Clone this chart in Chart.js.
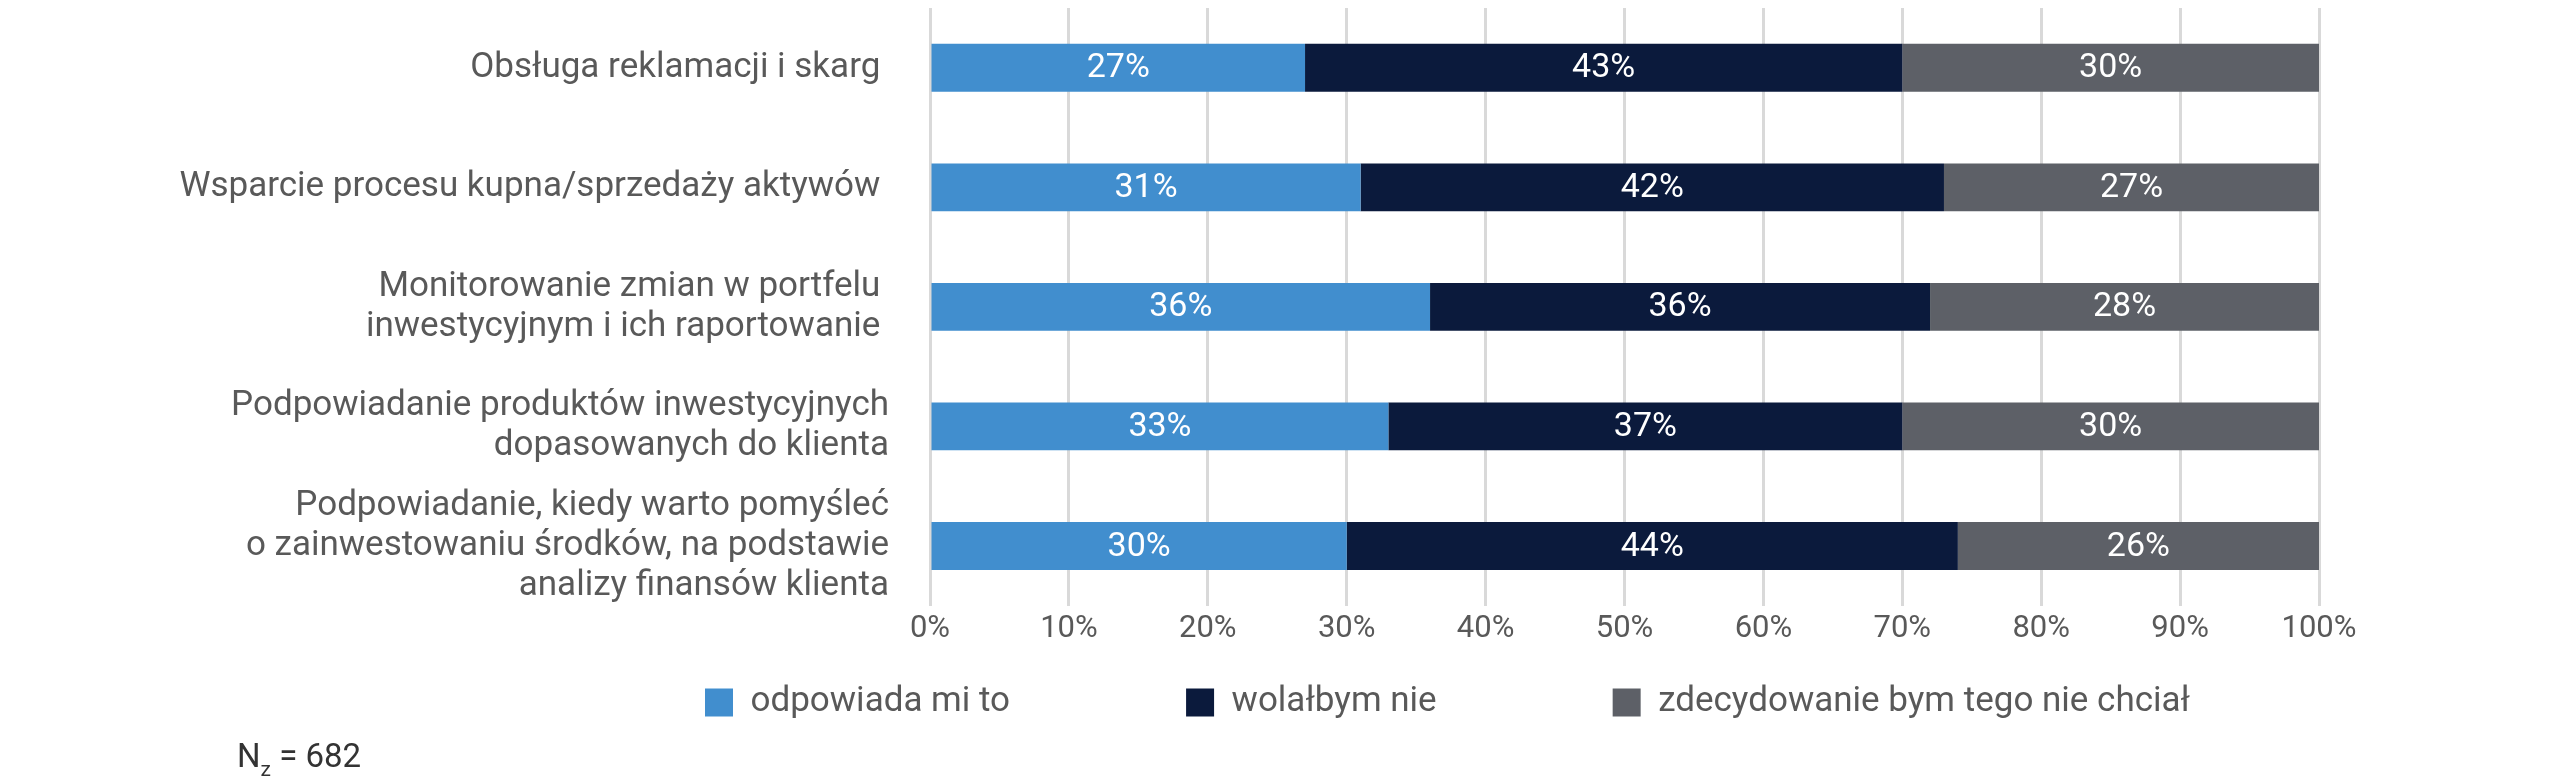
<!DOCTYPE html>
<html>
<head>
<meta charset="utf-8">
<script src="https://cdn.jsdelivr.net/npm/chart.js@4"></script>
<style>
	html, body { margin: 0; padding: 0; background: #fff; }
	#wrap { position: relative; width: 2560px; height: 783px; }
</style>
</head>
<body>
<div id="wrap"><canvas id="myChart"></canvas></div>
<script>
	const categories = [
		'Obsługa reklamacji i skarg ',
		'Wsparcie procesu kupna/sprzedaży aktywów ',
		['Monitorowanie zmian w portfelu ', 'inwestycyjnym i ich raportowanie '],
		['Podpowiadanie produktów inwestycyjnych', 'dopasowanych do klienta'],
		['Podpowiadanie, kiedy warto pomyśleć', 'o zainwestowaniu środków, na podstawie', 'analizy finansów klienta']
	];
	const seriesNames = ['odpowiada mi to', 'wolałbym nie', 'zdecydowanie bym tego nie chciał'];
	const odpowiada = [27, 31, 36, 33, 30];
	const wolalbym = [43, 42, 36, 37, 44];
	const niechcial = [30, 27, 28, 30, 26];
	const xTicks = [0, 10, 20, 30, 40, 50, 60, 70, 80, 90, 100];
	const sampleNote = { base: 'N', sub: 'z', rest: ' = 682' };

	const colors = ['#418ECE', '#0B1A3C', '#5D6067'];
	const textGray = '#595959';

	// wartosci w srodku paskow
	const barLabels = {
		id: 'barLabels',
		afterDatasetsDraw(chart) {
			const ctx = chart.ctx;
			ctx.save();
			ctx.font = '34px Roboto';
			ctx.fillStyle = '#ffffff';
			ctx.textAlign = 'center';
			ctx.textBaseline = 'middle';
			chart.data.datasets.forEach((ds, i) => {
				chart.getDatasetMeta(i).data.forEach((bar, j) => {
					ctx.fillText(ds.data[j] + '%', (bar.x + bar.base) / 2, bar.y + 1);
				});
			});
			ctx.restore();
		}
	};

	// legenda przesunieta pod wykres jak w oryginale
	const legendPlace = {
		id: 'legendPlace',
		afterLayout(chart) {
			const lg = chart.legend;
			if (!lg || !lg.lineWidths) return;
			const pad = lg.options.labels.padding;
			const start = (lg.left + pad + lg.right - lg.lineWidths[0]) / 2;
			const dx = 705 - start;
			lg.left += dx;
			lg.right += dx;
			lg.top = 685 - pad;
			lg.bottom = chart.height;
		}
	};

	// N z indeksem dolnym
	const note = {
		id: 'note',
		afterDraw(chart) {
			const ctx = chart.ctx;
			ctx.save();
			ctx.fillStyle = '#333333';
			ctx.textBaseline = 'alphabetic';
			ctx.textAlign = 'left';
			let x = 237;
			const y = 767;
			ctx.font = '33px Roboto';
			ctx.fillText(sampleNote.base, x, y);
			x += ctx.measureText(sampleNote.base).width;
			ctx.font = '21px Roboto';
			ctx.fillText(sampleNote.sub, x, y + 9);
			x += ctx.measureText(sampleNote.sub).width;
			ctx.font = '33px Roboto';
			ctx.fillText(sampleNote.rest, x, y);
			ctx.restore();
		}
	};

	Chart.defaults.font.family = 'Roboto';
	Chart.defaults.color = textGray;

	new Chart(document.getElementById('myChart'), {
		type: 'bar',
		data: {
			labels: categories,
			datasets: [
				{ label: seriesNames[0], data: odpowiada, backgroundColor: colors[0], borderWidth: 0 },
				{ label: seriesNames[1], data: wolalbym, backgroundColor: colors[1], borderWidth: 0 },
				{ label: seriesNames[2], data: niechcial, backgroundColor: colors[2], borderWidth: 0 }
			]
		},
		options: {
			indexAxis: 'y',
			responsive: true,
			maintainAspectRatio: false,
			animation: false,
			barPercentage: 0.4,
			categoryPercentage: 1.0,
			layout: {
				padding: { top: 8, right: 241, bottom: 70, left: 0 }
			},
			scales: {
				x: {
					stacked: true,
					min: 0,
					max: 100,
					afterBuildTicks: scale => {
						scale.ticks = xTicks.map(v => ({ value: v }));
					},
					grid: {
						color: '#D9D9D9',
						lineWidth: 3,
						drawTicks: false
					},
					border: { display: false },
					ticks: {
						padding: 5,
						color: textGray,
						font: { size: 31 },
						callback: v => v + '%'
					}
				},
				y: {
					stacked: true,
					grid: { display: false, drawTicks: false },
					border: { display: false },
					afterFit: scale => {
						scale.width = 930;
						scale.paddingTop = 0;
						scale.paddingBottom = 0;
					},
					ticks: {
						autoSkip: false,
						padding: 41,
						color: textGray,
						font: { size: 35, lineHeight: 1.15 }
					}
				}
			},
			plugins: {
				legend: {
					position: 'bottom',
					maxHeight: 60,
					labels: {
						boxWidth: 28,
						boxHeight: 28,
						padding: 176,
						color: textGray,
						font: { size: 35 }
					}
				},
				tooltip: { enabled: false }
			}
		},
		plugins: [barLabels, legendPlace, note]
	});
</script>
</body>
</html>
